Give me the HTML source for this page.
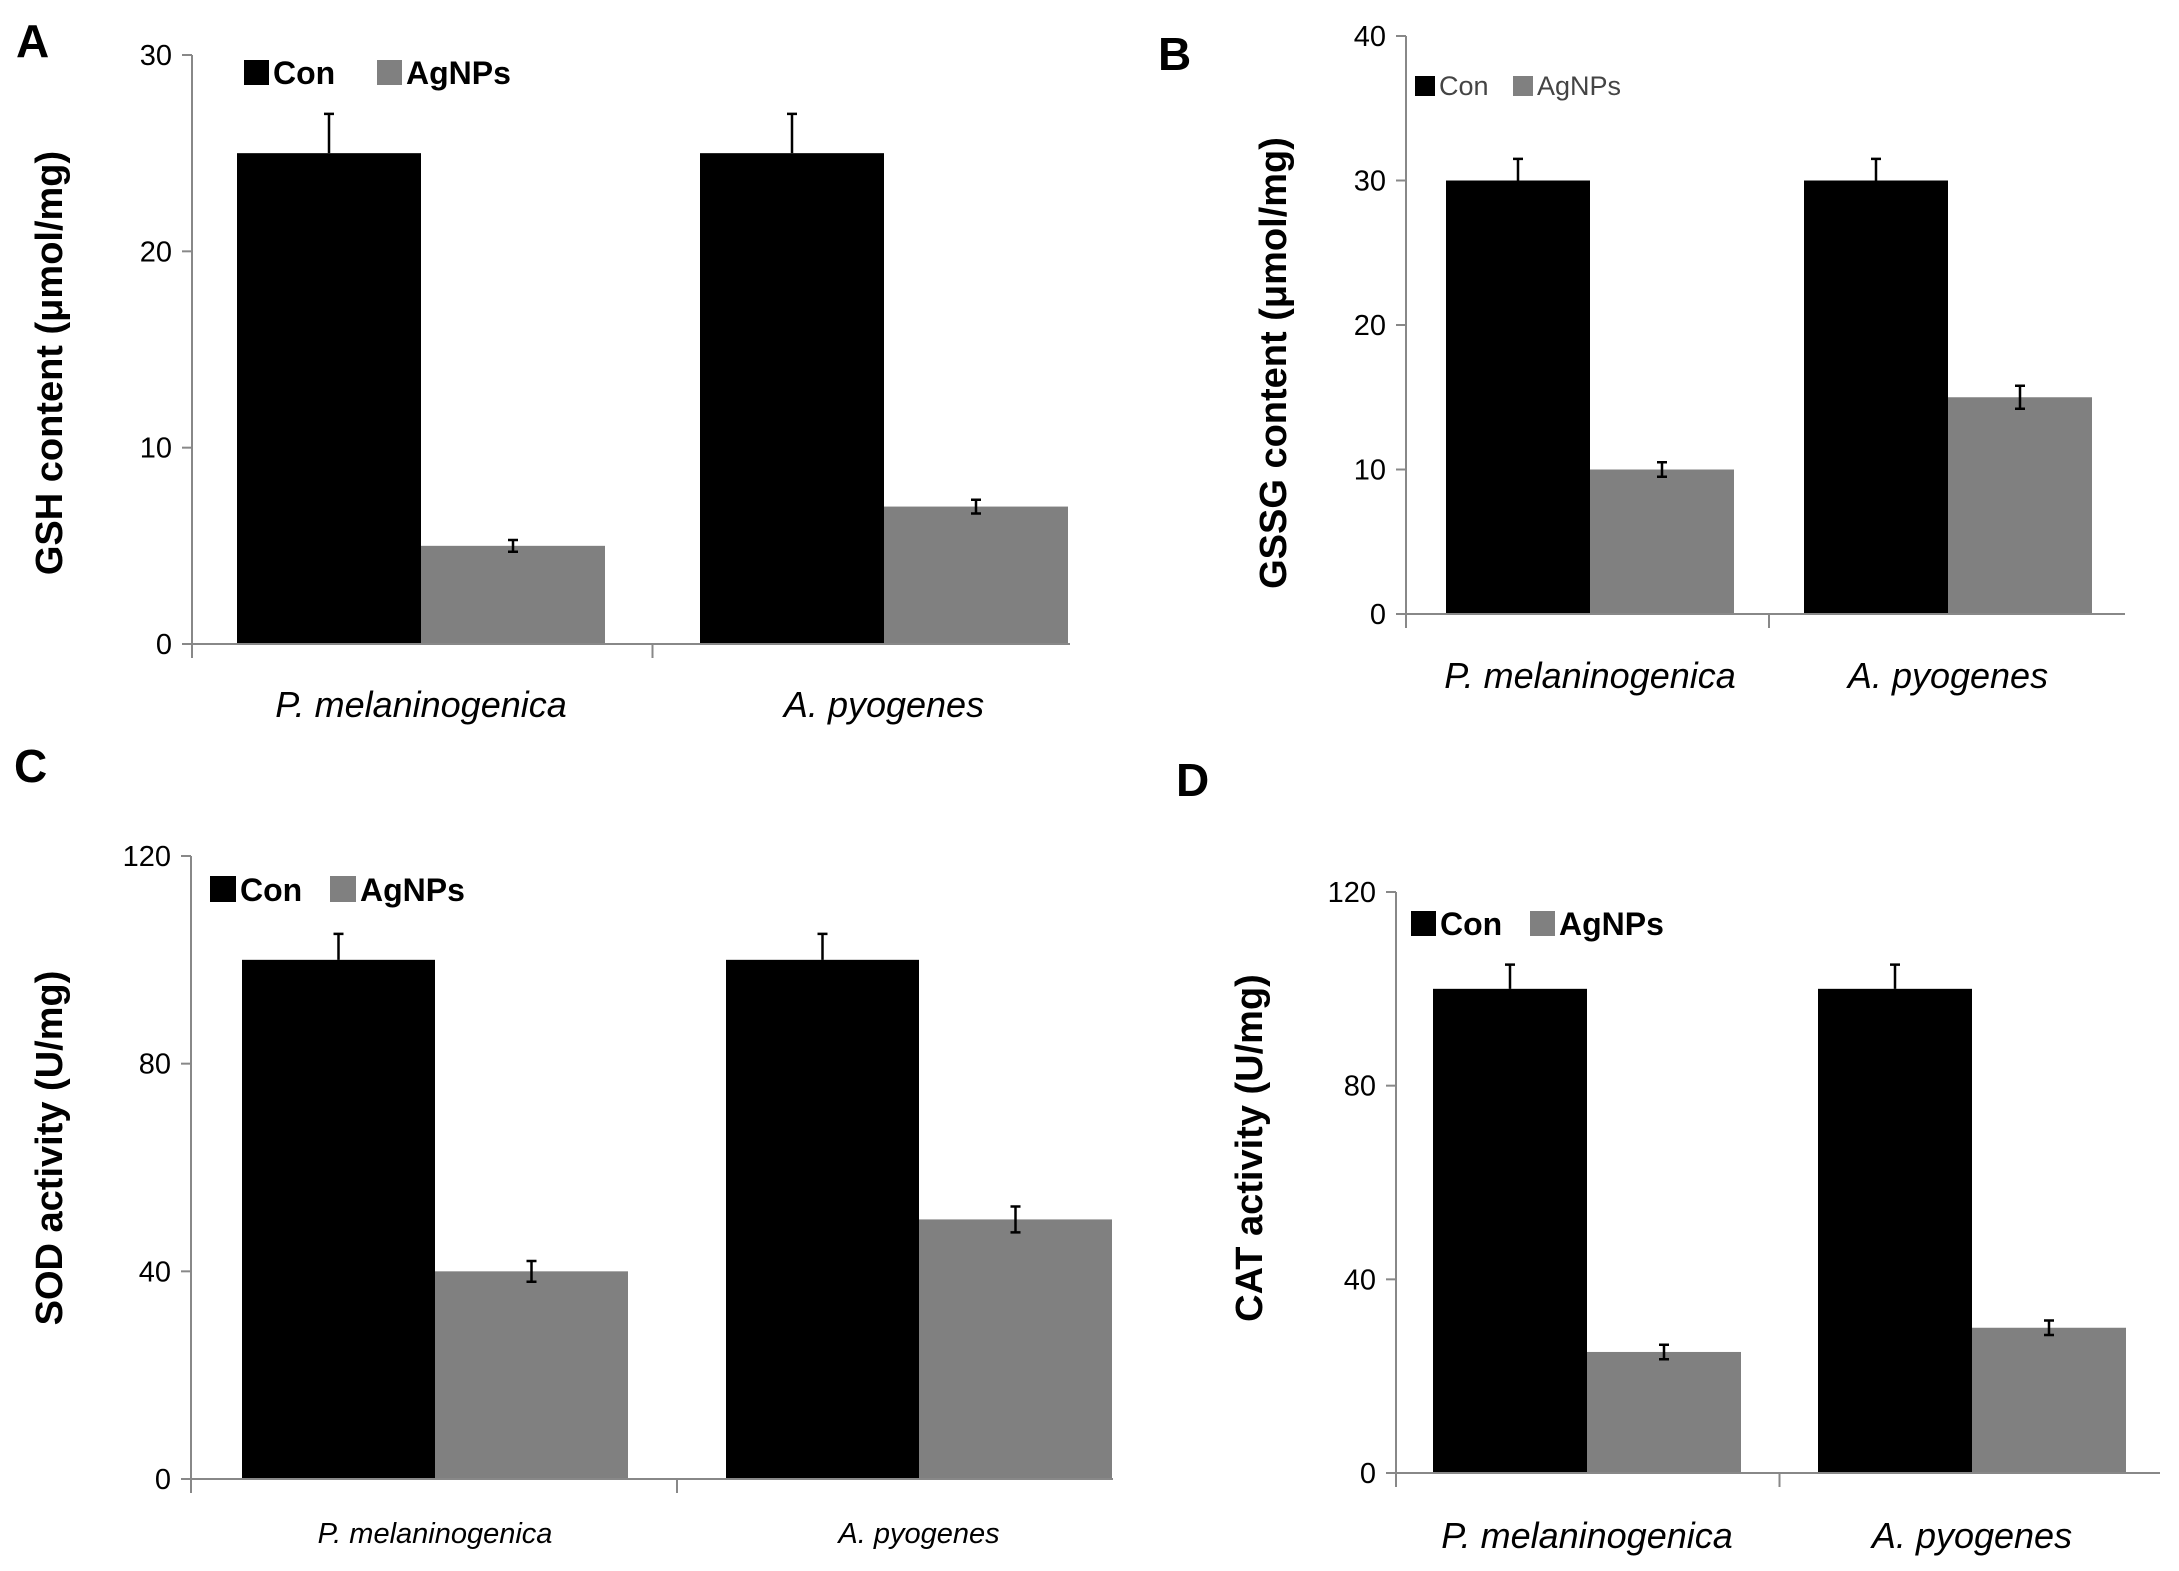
<!DOCTYPE html>
<html><head><meta charset="utf-8">
<style>
html,body{margin:0;padding:0;background:#fff;overflow:hidden;}
svg{display:block;font-family:"Liberation Sans","Noto Sans CJK KR",sans-serif;}
</style></head>
<body>
<svg id="fig" width="2179" height="1571" viewBox="0 0 2179 1571" xmlns="http://www.w3.org/2000/svg"></svg>
<script>
// ---- data ----
const categories = ["P. melaninogenica", "A.  pyogenes"];
const seriesNames = ["Con", "AgNPs"];
const gshCon = [25, 25];
const gshAg = [5, 7];
const gshConErr = [2, 2];
const gshAgErr = [0.3, 0.35];
const gsh_ticks = [0, 10, 20, 30];
const gssgCon = [30, 30];
const gssgAg = [10, 15];
const gssgConErr = [1.5, 1.5];
const gssgAgErr = [0.5, 0.8];
const gssg_ticks = [0, 10, 20, 30, 40];
const sodCon = [100, 100];
const sodAg = [40, 50];
const sodConErr = [5, 5];
const sodAgErr = [2, 2.5];
const sod_ticks = [0, 40, 80, 120];
const catCon = [100, 100];
const catAg = [25, 30];
const catConErr = [5, 5];
const catAgErr = [1.5, 1.5];
const cat_ticks = [0, 40, 80, 120];

const NS = "http://www.w3.org/2000/svg";
const svg = document.getElementById('fig');
function mk(tag, attrs, parent, text){
  const e = document.createElementNS(NS, tag);
  for (const k in attrs) e.setAttribute(k, attrs[k]);
  if (text !== undefined) e.textContent = text;
  (parent || svg).appendChild(e);
  return e;
}

function panel(cfg){
  const g = mk('g', {});
  
  
  const ymax = cfg.ticks[cfg.ticks.length-1];
  const yS = v => cfg.y0 - (v/ymax)*(cfg.y0-cfg.yTop);
  const xS = i => cfg.c0 + i*cfg.step;
  const barW = cfg.barW;
  const L = mk('text', {x:cfg.letterX, y:cfg.letterY, 'font-size':46, 'font-weight':'bold', fill:'#000'}, g, cfg.letter);
  
  
  categories.forEach((c, i) => {
    const cx = xS(i);
    const vals = [cfg.con[i], cfg.ag[i]];
    const errs = [cfg.conErr[i], cfg.agErr[i]];
    const cols = ['#000', '#808080'];
    vals.forEach((v, s) => {
      const bx = cx - barW + s*barW;
      const r = mk('rect', {x:bx, y:yS(v), width:barW, height:cfg.y0 - yS(v), fill:cols[s]}, g);
      
      
      const ex = bx + barW/2;
      const eb = mk('path', {d:`M${ex} ${yS(v+errs[s])}V${yS(v-(s?errs[s]:0))}M${ex-5} ${yS(v+errs[s])}h10` + (s?`M${ex-5} ${yS(v-errs[s])}h10`:''), stroke:'#000', 'stroke-width':2.5, fill:'none'}, g);
      
      
    });
    const t = mk('text', {x:cx, y:cfg.catY, 'font-size':cfg.catFs, 'font-style':'italic', 'text-anchor':'middle', fill:'#000', 'xml:space':'preserve'}, g, c);
    
    
  });
  const mid = (xS(0) + xS(1))/2;
  const ax = mk('path', {d:`M${cfg.x0} ${cfg.yTop}V${cfg.y0+14}M${cfg.x0-10} ${cfg.y0}H${cfg.xEnd}M${mid} ${cfg.y0}v14`, stroke:'#888', 'stroke-width':2, fill:'none'}, g);
  
  
  cfg.ticks.forEach(tv => {
    const y = yS(tv);
    mk('line', {x1:cfg.x0-10, x2:cfg.x0, y1:y, y2:y, stroke:'#888', 'stroke-width':2}, g);
    const t = mk('text', {x:cfg.x0-20, y:y+10, 'font-size':29, 'text-anchor':'end', fill:'#000'}, g, tv);
    
    
  });
  const yt = mk('text', {x:0, y:0, 'font-size':cfg.yFs, 'font-weight':'bold', 'text-anchor':'middle', transform:`translate(${cfg.yTitleX},${cfg.yTitleY}) rotate(-90)`, fill:'#000'}, g, cfg.ytitle);
  
  
  const lg = cfg.leg;
  const lgG = mk('g', {}, g);
  
  
  [['#000', lg.x1], ['#808080', lg.x2]].forEach((p, s) => {
    const e = mk('g', {}, lgG);
    
    
    mk('rect', {x:p[1], y:lg.y, width:lg.sz, height:lg.sz, fill:p[0]}, e);
    mk('text', {x:p[1]+lg.sz+4, y:lg.y+lg.sz-1, 'font-size':lg.fs, 'font-weight':lg.fw, fill:lg.col}, e, seriesNames[s]);
  });
}

panel({name:'panel-a-gsh', letter:'A', letterX:16, letterY:57, x0:192, xEnd:1070, yTop:55, y0:644, barW:184, c0:421, step:463,
  ticks:gsh_ticks, con:gshCon, ag:gshAg, conErr:gshConErr, agErr:gshAgErr,
  catY:717, catFs:36, ytitle:'GSH content (μmol/mg)', yFs:38, yTitleX:62, yTitleY:363,
  leg:{x1:244, x2:377, y:60, sz:25, fs:32, fw:'bold', col:'#000'}});
panel({name:'panel-b-gssg', letter:'B', letterX:1158, letterY:70, x0:1406, xEnd:2125, yTop:36, y0:614, barW:144, c0:1590, step:358,
  ticks:gssg_ticks, con:gssgCon, ag:gssgAg, conErr:gssgConErr, agErr:gssgAgErr,
  catY:688, catFs:36, ytitle:'GSSG content (μmol/mg)', yFs:38, yTitleX:1286, yTitleY:363,
  leg:{x1:1415, x2:1513, y:76, sz:20, fs:27, fw:'normal', col:'#444'}});
panel({name:'panel-c-sod', letter:'C', letterX:14, letterY:782, x0:191, xEnd:1113, yTop:856, y0:1479, barW:193, c0:435, step:484,
  ticks:sod_ticks, con:sodCon, ag:sodAg, conErr:sodConErr, agErr:sodAgErr,
  catY:1543, catFs:29, ytitle:'SOD activity  (U/mg)', yFs:38, yTitleX:62, yTitleY:1148,
  leg:{x1:210, x2:330, y:876, sz:26, fs:32, fw:'bold', col:'#000'}});
panel({name:'panel-d-cat', letter:'D', letterX:1176, letterY:796, x0:1396, xEnd:2160, yTop:892, y0:1473, barW:154, c0:1587, step:385,
  ticks:cat_ticks, con:catCon, ag:catAg, conErr:catConErr, agErr:catAgErr,
  catY:1548, catFs:36, ytitle:'CAT activity  (U/mg)', yFs:38, yTitleX:1262, yTitleY:1148,
  leg:{x1:1411, x2:1530, y:911, sz:25, fs:32, fw:'bold', col:'#000'}});
</script>
</body></html>
